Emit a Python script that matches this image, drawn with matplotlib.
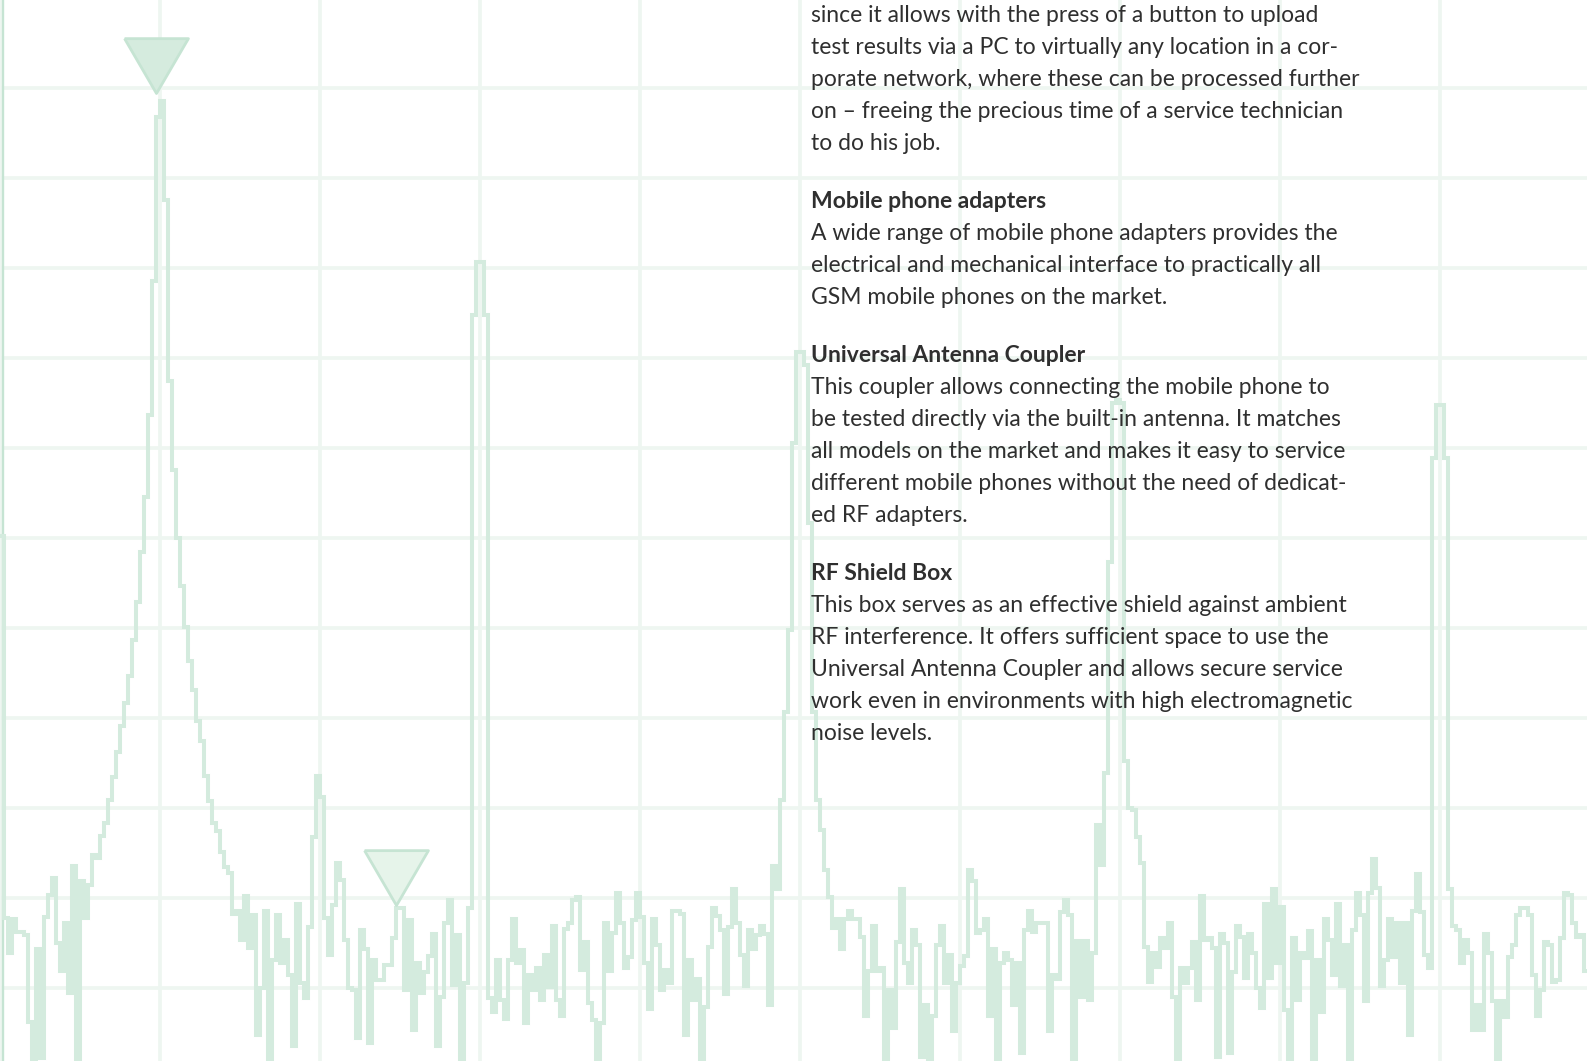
import matplotlib
matplotlib.use("Agg")
import matplotlib.pyplot as plt
import numpy as np

# spectrum trace, level in dB per display bin (397 bins across the screen)
levels = [
    -49.8, -92.2, -96.1, -92.3, -93.8, -93.8, -94.1, -103.8, -108.5, -95.7,
    -107.8, -92.1, -89.7, -87.8, -95.0, -98.1, -92.8, -100.6, -86.4, -108.5,
    -88.1, -92.2, -88.6, -85.2, -85.6, -83.1, -81.7, -79.1, -76.6, -73.8,
    -70.9, -68.3, -65.3, -61.3, -57.1, -51.6, -45.4, -36.3, -21.4, -3.2,
    -1.4, -12.4, -32.6, -42.4, -50.0, -55.3, -59.9, -63.7, -66.9, -70.3,
    -72.6, -76.4, -79.2, -81.7, -82.6, -84.9, -86.6, -87.2, -91.8, -91.4,
    -94.7, -89.8, -95.6, -91.9, -105.2, -100.0, -91.4, -108.5, -96.9, -91.9,
    -97.2, -94.7, -98.6, -106.4, -90.7, -99.4, -101.1, -93.2, -83.2, -76.4,
    -78.8, -92.2, -96.3, -90.8, -86.1, -88.0, -94.7, -100.0, -100.2, -105.6,
    -93.6, -95.7, -106.1, -96.9, -99.1, -99.1, -97.4, -97.4, -94.4, -91.1,
    -91.1, -100.2, -92.4, -104.7, -97.2, -100.6, -98.2, -96.4, -94.0, -106.4,
    -101.0, -92.8, -90.2, -99.7, -94.1, -108.5, -99.4, -91.1, -25.2, -19.3,
    -19.3, -25.2, -101.1, -102.7, -96.9, -101.3, -103.4, -96.9, -92.3, -97.2,
    -95.8, -103.9, -98.6, -100.2, -97.8, -101.3, -96.3, -99.9, -93.1, -101.3,
    -103.1, -93.4, -92.8, -90.2, -89.9, -98.0, -94.9, -101.7, -103.6, -108.5,
    -103.9, -92.8, -98.1, -93.9, -89.4, -92.8, -97.8, -96.6, -92.4, -89.4,
    -92.1, -97.2, -102.3, -92.3, -95.2, -100.2, -98.0, -99.4, -91.4, -91.4,
    -91.8, -105.2, -96.9, -101.3, -99.0, -108.5, -102.1, -95.4, -91.1, -92.0,
    -93.6, -100.7, -93.2, -89.0, -92.8, -96.3, -99.8, -93.6, -95.7, -94.1,
    -93.1, -94.0, -101.9, -86.4, -89.0, -79.1, -69.3, -60.2, -39.4, -29.3,
    -29.3, -30.8, -48.3, -69.3, -79.1, -82.4, -86.9, -89.9, -93.3, -92.3,
    -95.7, -92.3, -91.4, -92.3, -92.3, -94.3, -103.1, -98.1, -93.1, -98.1,
    -97.8, -108.5, -100.2, -104.4, -94.9, -89.0, -97.2, -99.4, -93.6, -95.2,
    -107.7, -101.9, -108.5, -103.1, -95.2, -93.1, -99.4, -96.3, -104.8, -99.4,
    -97.6, -96.4, -86.9, -88.1, -93.9, -93.6, -92.3, -103.1, -95.7, -108.5,
    -97.2, -96.1, -96.9, -101.9, -97.2, -107.2, -93.6, -91.4, -93.8, -92.8,
    -92.8, -92.8, -104.8, -98.6, -99.0, -91.6, -90.2, -91.9, -108.5, -94.8,
    -101.0, -94.8, -101.3, -96.1, -81.9, -86.3, -76.1, -52.7, -35.0, -34.7,
    -35.0, -74.8, -80.0, -80.2, -83.2, -86.1, -95.4, -99.3, -96.1, -97.7,
    -94.4, -95.6, -92.8, -101.0, -108.5, -97.8, -99.4, -97.8, -94.9, -101.3,
    -89.8, -94.7, -94.4, -95.6, -107.7, -94.0, -95.0, -107.2, -98.2, -93.1,
    -94.3, -98.9, -94.0, -96.1, -100.0, -102.2, -90.7, -98.9, -89.0, -97.2,
    -91.0, -102.4, -108.5, -94.4, -101.3, -96.1, -96.7, -93.7, -108.5, -96.9,
    -102.7, -92.3, -94.7, -98.6, -90.7, -99.8, -95.2, -108.5, -93.6, -89.4,
    -91.9, -101.4, -89.4, -85.7, -88.9, -99.8, -96.9, -92.3, -96.6, -92.8,
    -99.4, -92.8, -105.2, -91.4, -87.3, -91.6, -96.3, -97.8, -41.1, -35.2,
    -35.2, -41.1, -89.0, -93.1, -93.6, -97.2, -94.7, -96.1, -104.7, -101.9,
    -104.7, -94.0, -96.1, -101.4, -108.5, -101.4, -103.2, -96.6, -95.2, -91.9,
    -91.1, -91.1, -91.9, -98.6, -103.1, -100.2, -94.9, -95.2, -99.3, -99.1,
    -94.4, -89.4, -89.7, -92.8, -94.3, -94.1, -98.1,
]

# marker positions (bin, level)
marker_bin = [39.0, 99.0]
marker_level = [-0.6, -90.8]
marker_fill = ["#d5ebde", "#e6f4ea"]

blocks = [
    (None, [
        "since it allows with the press of a button to upload",
        "test results via a PC to virtually any location in a cor-",
        "porate network, where these can be processed further",
        "on – freeing the precious time of a service technician",
        "to do his job.",
    ]),
    ("Mobile phone adapters", [
        "A wide range of mobile phone adapters provides the",
        "electrical and mechanical interface to practically all",
        "GSM mobile phones on the market.",
    ]),
    ("Universal Antenna Coupler", [
        "This coupler allows connecting the mobile phone to",
        "be tested directly via the built-in antenna. It matches",
        "all models on the market and makes it easy to service",
        "different mobile phones without the need of dedicat-",
        "ed RF adapters.",
    ]),
    ("RF Shield Box", [
        "This box serves as an effective shield against ambient",
        "RF interference. It offers sufficient space to use the",
        "Universal Antenna Coupler and allows secure service",
        "work even in environments with high electromagnetic",
        "noise levels.",
    ]),
]

W, H = 1587, 1061
fig = plt.figure(figsize=(W / 100, H / 100), dpi=100)
ax = fig.add_axes([0, 0, 1, 1])

n = len(levels)
ax.set_xlim(0, W / 4)
ax.set_ylim(-(H - 88) / 9, 88 / 9)

ax.set_xticks(np.arange(0, 400, 40))
ax.set_yticks(np.arange(-100, 1, 10))
ax.grid(True, color="#eef6f1", lw=2.7, zorder=0)
ax.tick_params(length=0, labelbottom=False, labelleft=False)
for s in ax.spines.values():
    s.set_visible(False)
ax.set_axisbelow(True)

ax.axvline(0.7, color="#c6e4d3", lw=1.7, zorder=1)

ax.stairs(levels, np.arange(n + 1), baseline=None, color="#d4ebde",
          lw=2.9, zorder=2)

# down-pointing marker, tip on the point
tri = [(-32, 55), (32, 55), (0, 0), (-32, 55)]
for b, lv, fc in zip(marker_bin, marker_level, marker_fill):
    ax.plot([b], [lv], marker=tri, ms=79, mfc=fc, mec="#c6e4d3", mew=2,
            ls="none", zorder=3)

# text column
fam = ["Lato", "DejaVu Sans"]
y = 22.5
for i, (head, lines) in enumerate(blocks):
    if head is not None:
        y += 26
        fig.text(811 / W, 1 - y / H, head, family=fam, weight="bold",
                 fontsize=16.5, color="#2f2f2f", va="baseline", zorder=5)
        y += 32
    for ln in lines:
        fig.text(811 / W, 1 - y / H, ln, family=fam, fontsize=16.5,
                 color="#2f2f2f", va="baseline", zorder=5)
        y += 32

fig.savefig("out.png", dpi=100)
